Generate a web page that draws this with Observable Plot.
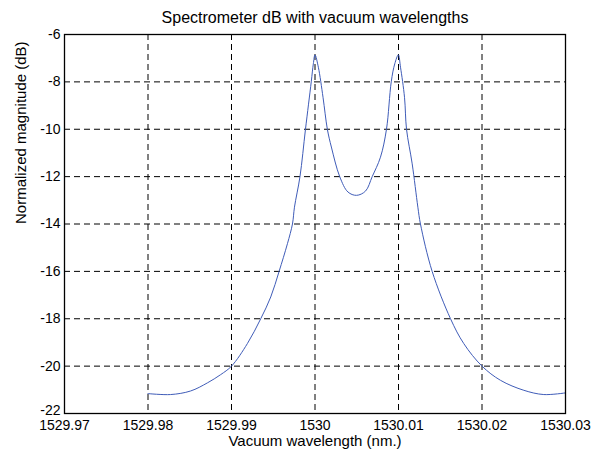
<!DOCTYPE html>
<html>
<head>
<meta charset="utf-8">
<script src="https://cdn.jsdelivr.net/npm/d3@7"></script>
<script src="https://cdn.jsdelivr.net/npm/@observablehq/plot@0.6"></script>
<style>
  html, body { margin: 0; padding: 0; background: white; }
  #chart svg { display: block; }
</style>
</head>
<body>
<div id="chart"></div>
<script>
const wavelength = [1529.98, 1529.9827, 1529.9851, 1529.9871, 1529.9887, 1529.99, 1529.9919, 1529.9935, 1529.9947, 1529.9957, 1529.9967, 1529.9973, 1529.99754, 1529.9982, 1529.99886, 1529.99955, 1529.9998, 1530.0, 1530.0004, 1530.00096, 1530.00148, 1530.00196, 1530.00296, 1530.00395, 1530.00497, 1530.00605, 1530.00685, 1530.00784, 1530.00856, 1530.00913, 1530.00955, 1530.00998, 1530.01024, 1530.01072, 1530.01096, 1530.01164, 1530.01232, 1530.01263, 1530.01403, 1530.01623, 1530.01782, 1530.02, 1530.02222, 1530.02501, 1530.0274, 1530.03];
const magnitude = [-21.16, -21.2, -21.05, -20.71, -20.36, -20.0, -19.05, -18.0, -17.08, -16.0, -14.83, -14.0, -13.29, -12.0, -10.0, -8.0, -7.24, -6.86, -7.38, -8.65, -10.0, -10.75, -12.0, -12.65, -12.79, -12.61, -12.0, -11.18, -10.0, -8.0, -7.24, -6.86, -7.38, -8.65, -10.0, -11.46, -13.29, -14.0, -16.0, -18.0, -19.05, -20.0, -20.6, -21.02, -21.2, -21.13];

const xTicks = [1529.97, 1529.98, 1529.99, 1530.0, 1530.01, 1530.02, 1530.03];
const xTickLabels = ["1529.97", "1529.98", "1529.99", "1530", "1530.01", "1530.02", "1530.03"];
const yTicks = [-22, -20, -18, -16, -14, -12, -10, -8, -6];
const yTickLabels = ["-22", "-20", "-18", "-16", "-14", "-12", "-10", "-8", "-6"];

const titleText = "Spectrometer dB with vacuum wavelengths";
const xLabel = "Vacuum wavelength (nm.)";
const yLabel = "Normalized magnitude (dB)";

const data = wavelength.map((w, i) => ({w, m: magnitude[i]}));
const yTickData = yTicks.map((v, i) => ({v, label: yTickLabels[i]}));

const chart = Plot.plot({
  width: 592,
  height: 453,
  marginLeft: 64,
  marginRight: 27,
  marginTop: 34,
  marginBottom: 40,
  style: {fontFamily: "'Liberation Sans', Arial, sans-serif", fontSize: "14px", background: "white", color: "black"},
  x: {domain: [1529.97, 1530.03]},
  y: {domain: [-22, -6], axis: null},
  marks: [
    Plot.ruleX(xTicks, {stroke: "black", strokeDasharray: "6,4", strokeWidth: 1}),
    Plot.ruleY(yTicks, {stroke: "black", strokeDasharray: "6,4", strokeWidth: 1}),
    Plot.line(data, {x: "w", y: "m", stroke: "#3f5cb8", strokeWidth: 1, curve: "catmull-rom"}),
    Plot.frame({stroke: "black", strokeWidth: 1.3}),
    Plot.axisX({ticks: xTicks, tickSize: 0, tickPadding: 7, tickFormat: (d, i) => xTickLabels[i], label: null, fontSize: 14}),
    Plot.text(yTickData.slice(1), {y: "v", text: "label", frameAnchor: "left", textAnchor: "end", dx: -4, fontSize: 14}),
    Plot.text(yTickData.slice(0, 1), {y: "v", text: "label", frameAnchor: "left", textAnchor: "end", dx: -4, dy: -3, fontSize: 14}),
    Plot.text([titleText], {text: d => d, frameAnchor: "top", lineAnchor: "middle", dy: -17, fontSize: 16}),
    Plot.text([xLabel], {text: d => d, frameAnchor: "bottom", lineAnchor: "middle", dy: 28, fontSize: 15}),
    Plot.text([yLabel], {text: d => d, frameAnchor: "left", lineAnchor: "middle", dx: -43, rotate: -90, fontSize: 15})
  ]
});
document.getElementById("chart").appendChild(chart);
</script>
</body>
</html>
